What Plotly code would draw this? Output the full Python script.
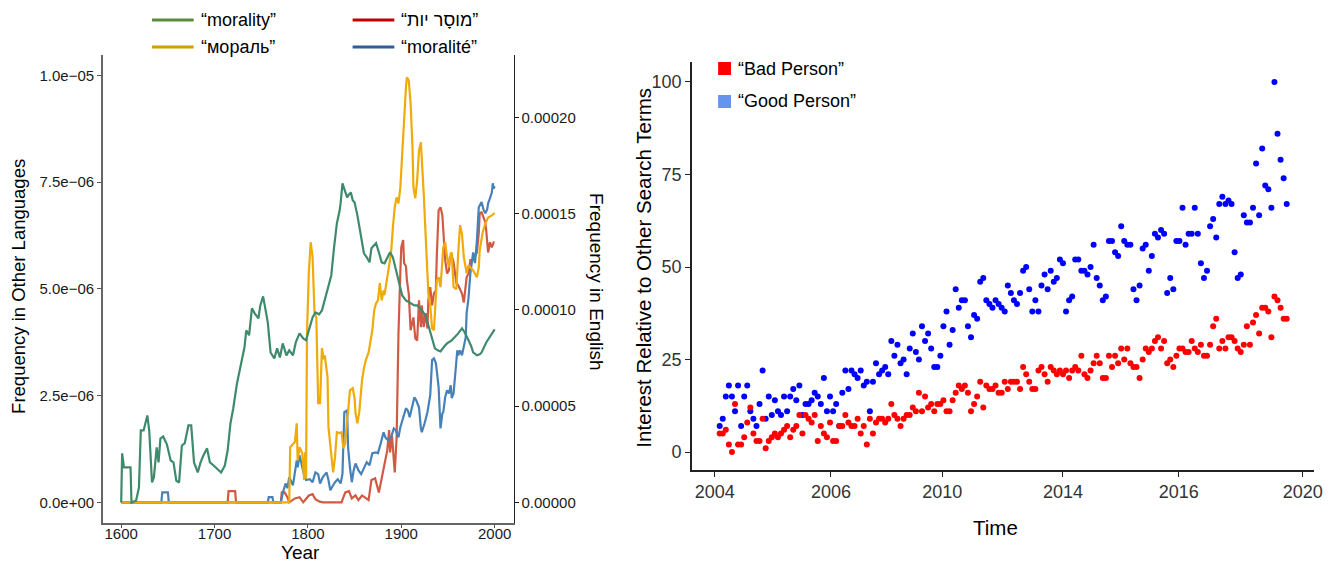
import numpy as np
import plotly.graph_objects as go

W, H = 1331, 563

# ---------------- Left panel data (Ngram frequencies) ----------------
# English "morality" (right axis), values in units of 1e-6
years_en = [1600,1601,1603,1610,1611,1616,1619,1621,1624,1628,
            1630,1633,1635,1638,1640,1642,1645,1649,1653,1656,
            1659,1662,1665,1668,1672,1675,1678,1682,1685,1688,
            1692,1695,1699,1704,1707,1711,1714,1717,1720,1724,
            1727,1729,1732,1734,1737,1740,1743,1747,1749,1752,
            1754,1757,1760,1764,1767,1770,1773,1777,1780,1784,
            1787,1791,1795,1798,1801,1805,1808,1812,1815,1818,
            1821,1825,1828,1831,1834,1835,1837,1840,1842,1844,
            1846,1848,1850,1853,1857,1860,1863,1866,1868,1871,
            1873,1876,1879,1882,1885,1888,1891,1894,1898,1901,
            1905,1910,1914,1917,1921,1926,1931,1936,1939,1942,
            1946,1949,1954,1958,1961,1965,1968,1972,1975,1977,
            1981,1984,1986,1991,1996,2000]
english_per_million = [0, 25.5, 18.2, 18.2, 0, 1.0, 7.8, 37.4, 37.4, 45.2,
                       37.4, 10.4, 13.0, 28.6, 20.8, 33.2, 34.3, 30.1, 21.8, 20.8,
                       11.4, 10.4, 29.6, 30.7, 40.0, 40.0, 20.8, 15.6, 20.8, 24.4,
                       28.1, 20.8, 19.2, 16.6, 15.6, 19.2, 27.0, 41.0, 48.8, 61.8,
                       69.6, 73.8, 80.5, 89.4, 86.8, 100.8, 98.2, 95.6, 102.3, 107.0,
                       100.8, 93.5, 77.9, 74.8, 80.0, 75.3, 82.6, 76.4, 79.0, 76.4,
                       83.1, 87.8, 85.2, 84.2, 89.4, 96.1, 98.7, 97.7, 99.7, 104.9,
                       110.1, 117.9, 132.5, 144.9, 151.7, 155.3, 165.7, 161.0, 158.4, 160.0,
                       161.0, 156.9, 155.8, 149.1, 138.7, 129.4, 127.3, 124.7, 132.0, 133.5,
                       134.6, 129.9, 124.7, 124.2, 127.3, 129.9, 127.3, 121.6, 114.3, 107.5,
                       104.9, 103.4, 102.3, 102.3, 100.3, 97.1, 87.8, 80.0, 79.0, 78.4,
                       81.0, 82.6, 84.2, 86.2, 87.8, 90.4, 88.3, 84.2, 81.0, 77.9,
                       76.4, 76.9, 77.9, 83.1, 87.3, 89.9]

# Russian "мораль" (left axis), units of 1e-6
years_ru = [1600,1780,1781,1786,1788,1789,1791,1794,1796,1797,1798,1799,1801,1803,1805,1807,1809,
            1811,1813,1815,1817,1818,1821,1822,1825,1827,1829,1831,1834,1836,1838,1840,1842,1843,
            1845,1848,1850,1851,1853,1855,1857,1858,1860,1862,1865,1867,1869,1871,1873,1875,1877,
            1879,1881,1882,1884,1885,1887,1889,1891,1893,1895,1897,1899,1901,1903,1905,1906,1908,
            1910,1912,1913,1915,1917,1919,1921,1922,1924,1926,1928,1929,1931,1933,1935,1937,1938,
            1940,1942,1945,1947,1949,1951,1953,1954,1956,1959,1961,1963,1965,1967,1970,1972,1974,
            1977,1981,1983,1984,1987,1990,1993,1997,2000]
russian_per_million = [0, 0, 1.29, 1.41, 1.85, 0.98, 1.29, 1.15, 0.52, 1.17, 0.56, 3.96, 5.4, 6.09, 5.74, 4.45, 4.33,
                       2.32, 2.32, 3.61, 3.35, 3.44, 2.93, 1.76, 1.12, 0.70, 1.05, 1.64, 1.62, 1.64, 1.26, 1.38, 1.97, 2.11,
                       2.62, 2.67, 2.44, 2.08, 1.85, 2.11, 2.62, 2.86, 3.14, 3.33, 3.51, 3.79, 4.03, 4.50, 4.66, 4.73, 5.13,
                       4.73, 4.96, 4.85, 5.13, 5.25, 5.60, 5.83, 6.44, 6.91, 7.14, 7.00, 7.38, 8.24, 9.02, 9.72, 9.95, 9.88,
                       9.34, 8.31, 7.38, 7.12, 7.54, 8.24, 8.43, 8.08, 7.24, 6.30, 5.43, 4.89, 4.61, 4.07, 4.03, 4.89, 5.20,
                       5.27, 5.04, 5.97, 6.09, 5.74, 5.50, 5.83, 5.85, 5.04, 4.99, 5.85, 6.49, 6.28, 5.74, 5.36, 5.55, 5.50,
                       5.43, 5.27, 5.50, 5.90, 6.30, 6.53, 6.67, 6.72, 6.77]

# Hebrew (left axis), units of 1e-6
years_he = [1600,1714,1715,1722,1723,1771,1772,1775,1778,1780,1786,1791,1795,1801,1805,1808,1812,1816,
            1836,1840,1844,1847,1851,1854,1858,1861,1865,1868,1872,1876,1879,1882,1885,1887,1888,1890,
            1893,1895,1897,1899,1900,1902,1903,1905,1906,1908,1910,1913,1915,1917,1919,1921,1922,1924,
            1926,1928,1929,1931,1933,1935,1937,1938,1940,1942,1944,1945,1947,1949,1951,1952,1954,1956,
            1959,1961,1963,1965,1967,1968,1970,1972,1974,1977,1981,1983,1984,1986,1988,1990,1991,1993,
            1995,1997,1999,2000]
hebrew_per_million = [0, 0, 0.26, 0.26, 0, 0, 0.23, 0.23, 0.12, 0, 0.09, 0.12, 0, 0.16, 0.19, 0.07, 0.02, 0,
                      0, 0.23, 0.26, 0.09, 0.16, 0.05, 0.16, 0.12, 0.05, 0.52, 0.56, 0.23, 0.56, 0.91, 1.22, 1.69, 1.17, 1.57,
                      0.70, 1.52, 3.96, 5.39, 5.97, 6.14, 5.60, 5.53, 5.20, 4.89, 4.03, 4.33, 3.84, 3.79, 4.73, 4.10, 4.61, 4.10,
                      4.43, 4.07, 4.73, 5.04, 4.61, 4.89, 4.96, 5.74, 6.84, 6.91, 6.72, 6.37, 5.67, 5.36, 5.43, 5.74, 5.78, 5.62,
                      5.13, 5.08, 4.96, 4.89, 4.68, 4.89, 5.27, 5.36, 5.67, 5.67, 5.85, 6.30, 6.77, 6.79, 6.67, 6.56, 6.37, 5.85,
                      6.09, 5.97, 6.09, 6.09]

# French "moralité" (left axis), units of 1e-6
years_fr = [1600,1643,1644,1650,1651,1757,1758,1762,1763,1771,1773,1776,1778,1780,1784,1786,1788,1789,
            1791,1794,1796,1798,1802,1805,1808,1811,1813,1816,1820,1822,1824,1827,1829,1832,1835,1837,
            1839,1842,1843,1845,1847,1849,1851,1854,1857,1860,1863,1866,1869,1873,1875,1878,1881,1883,
            1886,1889,1892,1894,1897,1899,1902,1905,1907,1909,1912,1914,1916,1919,1921,1922,1925,1928,
            1931,1933,1935,1937,1938,1940,1942,1944,1945,1947,1949,1951,1953,1954,1956,1958,1960,1961,
            1963,1965,1967,1969,1970,1972,1974,1977,1979,1981,1983,1984,1986,1988,1990,1992,1993,1995,
            1997,1998,1999,2000]
french_per_million = [0, 0, 0.23, 0.23, 0, 0, 0.12, 0.12, 0, 0, 0.21, 0.44, 0.33, 0.59, 0.40, 0.75, 0.98, 0.82,
                      1.10, 0.82, 0.63, 0.52, 0.54, 0.47, 0.70, 0.66, 0.44, 0.59, 0.70, 0.52, 0.28, 0.40, 0.47, 0.54, 0.44, 0.66,
                      2.11, 2.15, 1.29, 0.82, 0.47, 0.75, 0.91, 0.75, 0.66, 0.80, 0.94, 0.87, 1.15, 1.17, 1.15, 1.38, 1.64, 1.52,
                      1.45, 1.52, 1.73, 1.69, 1.52, 1.76, 1.99, 2.20, 2.15, 1.99, 2.27, 2.46, 2.39, 2.22, 1.73, 1.64, 1.85, 2.11,
                      2.51, 3.33, 3.37, 3.26, 3.09, 2.69, 1.73, 2.08, 2.11, 2.46, 2.62, 2.55, 2.74, 2.44, 2.55, 3.09, 3.56, 3.44,
                      3.56, 3.44, 3.68, 3.86, 4.43, 4.78, 5.36, 5.85, 5.60, 6.14, 6.91, 6.96, 7.03, 6.86, 6.77, 6.86, 7.00, 7.12,
                      7.26, 7.47, 7.35, 7.40]

left_ticks = [0, 2.5e-6, 5e-6, 7.5e-6, 1e-5]
left_tick_labels = ["0.0e+00", "2.5e\u221206", "5.0e\u221206", "7.5e\u221206", "1.0e\u221205"]
right_ticks = [0, 5e-5, 1e-4, 1.5e-4, 2e-4]
year_ticks = [1600, 1700, 1800, 1900, 2000]

# ---------------- Right panel data (Google Trends, monthly) ----------------
bad_person = [5, 5, 6, 2, 0, 13, 2, 2, 4, 8, 12, 5, 3,
              3, 9, 1, 3, 4, 5, 4, 5,
              6, 7, 4, 6, 7, 10, 5, 10,
              9, 8, 10, 3, 7, 5, 4, 8,
              3, 3, 7, 7, 10, 8, 7, 7,
              9, 5, 7, 2, 9, 5, 8, 9,
              9, 8, 9, 13, 10, 9, 7, 9,
              10, 10, 12, 11, 16, 11, 15, 12,
              13, 11, 13, 13, 14, 11, 11, 14,
              16, 18, 17, 18, 16, 11, 13, 15,
              19, 12, 18, 17, 17, 18, 16, 16,
              19, 17, 19, 19, 19, 17, 23, 21, 19, 17,
              17, 22, 23, 21, 19, 23, 22, 21, 22, 21,
              22, 20, 22, 23, 22, 26, 21, 20, 22, 24,
              26, 24, 20, 20, 26, 23, 26, 24, 28, 25,
              28, 24, 23, 23, 20, 25, 28, 27, 28, 30,
              31, 28, 30, 24, 25, 23, 26, 28, 28, 27,
              27, 30, 28, 27, 29, 26, 26, 29, 34, 36,
              28, 30, 28, 31, 31, 30, 28, 27, 29, 34,
              29, 35, 37, 32, 39, 39, 38, 31, 42, 41,
              39, 36, 36]
good_person = [7, 9, 15, 18, 15, 11, 18, 7, 15, 18, 11, 9, 7,
               13, 22, 9, 15, 10, 14, 11, 10,
               15, 11, 15, 17, 14, 18, 10, 13,
               13, 14, 16, 15, 13, 20, 11, 15,
               11, 13, 7, 16, 22, 17, 22, 21,
               20, 22, 18, 19, 11, 19, 24, 21,
               22, 23, 21, 30, 26, 29, 24, 25,
               21, 28, 32, 27, 25, 34, 30, 32,
               28, 23, 23, 26, 34, 38, 29, 33,
               44, 39, 41, 41, 34, 31, 37, 36,
               46, 47, 41, 40, 39, 41, 40, 39,
               38, 45, 43, 41, 40, 43, 49, 50, 44, 38,
               41, 38, 45, 48, 44, 49, 46, 47, 52, 51,
               38, 41, 42, 52, 52, 49, 49, 48, 50, 56,
               47, 45, 41, 42, 57, 57, 54, 53, 61, 57,
               56, 56, 44, 41, 45, 55, 56, 49, 53, 59,
               58, 60, 59, 43, 47, 44, 57, 57, 66, 56,
               59, 59, 66, 59, 51, 47, 49, 61, 63, 58,
               67, 69, 67, 68, 67, 54, 47, 48, 64, 62,
               62, 66, 78, 64, 82, 72, 71, 66, 100, 86,
               79, 74, 67]
months = 2004 + np.arange(len(good_person)) / 12.0
time_tick_pos = [2003.867, 2007.025, 2010.05, 2013.333, 2016.483, 2019.85]
time_tick_labels = ["2004", "2006", "2010", "2014", "2016", "2020"]
interest_ticks = [0, 25, 50, 75, 100]

english = [v * 1e-6 for v in english_per_million]
russian = [v * 1e-6 for v in russian_per_million]
hebrew = [v * 1e-6 for v in hebrew_per_million]
french = [v * 1e-6 for v in french_per_million]

FONT = "Liberation Sans, Arial, Helvetica, sans-serif"
C_GREEN, C_GOLD, C_RED, C_BLUE = "#3e8a6c", "#f0aa0a", "#d05a44", "#4682b9"

def px(x):
    return x / W

def py(y):
    return 1 - y / H

fig = go.Figure()
lw = 2.2
fig.add_trace(go.Scatter(x=years_en, y=english, mode="lines", line=dict(color=C_GREEN, width=lw),
                         xaxis="x", yaxis="y2", showlegend=False))
fig.add_trace(go.Scatter(x=years_he, y=hebrew, mode="lines", line=dict(color=C_RED, width=lw),
                         xaxis="x", yaxis="y", showlegend=False))
fig.add_trace(go.Scatter(x=years_fr, y=french, mode="lines", line=dict(color=C_BLUE, width=lw),
                         xaxis="x", yaxis="y", showlegend=False))
fig.add_trace(go.Scatter(x=years_ru, y=russian, mode="lines", line=dict(color=C_GOLD, width=lw),
                         xaxis="x", yaxis="y", showlegend=False))

fig.add_trace(go.Scatter(x=months, y=good_person, mode="markers",
                         marker=dict(color="#0000ff", size=6, line=dict(width=0)),
                         xaxis="x2", yaxis="y3", showlegend=False))
fig.add_trace(go.Scatter(x=months, y=bad_person, mode="markers",
                         marker=dict(color="#ff0000", size=6, line=dict(width=0)),
                         xaxis="x2", yaxis="y3", showlegend=False))

tickfont_l = dict(family=FONT, size=15, color="#1a1a1a")
tickfont_r = dict(family=FONT, size=18, color="#333333")

fig.update_layout(
    width=W, height=H,
    margin=dict(l=0, r=0, t=0, b=0),
    paper_bgcolor="white", plot_bgcolor="white",
    showlegend=False,
    xaxis=dict(domain=[px(103.6), px(517)], range=[1580.4, 2020.2],
               tickvals=year_ticks, ticks="outside", ticklen=4, tickcolor="#555555",
               showline=True, linecolor="#666666", linewidth=1.5, showgrid=False, zeroline=False,
               tickfont=dict(family=FONT, size=15, color="#1a1a1a"), ticklabelstandoff=-7,
               anchor="y"),
    yaxis=dict(domain=[py(522.7), py(55)], range=[-0.478e-6, 10.475e-6],
               tickvals=left_ticks, ticktext=left_tick_labels, ticks="outside", ticklen=4,
               tickcolor="#555555", showline=True, linecolor="#666666", linewidth=1.5,
               showgrid=False, zeroline=False, tickfont=tickfont_l, anchor="x"),
    yaxis2=dict(overlaying="y", side="right", range=[-1.049e-5, 2.3235e-4],
                tickvals=right_ticks, tickformat=".5f", ticks="outside", ticklen=4,
                tickcolor="#222222", showline=True, linecolor="#222222", linewidth=1,
                showgrid=False, zeroline=False, tickfont=tickfont_l, anchor="x"),
    xaxis2=dict(domain=[px(696.7), px(1322.7)], range=[2003.247, 2020.152],
                tickvals=time_tick_pos, ticktext=time_tick_labels, ticks="outside", ticklen=5,
                tickcolor="#222222", showline=True, linecolor="#222222", linewidth=1.5,
                showgrid=False, zeroline=False, tickfont=tickfont_r, anchor="y3",
                ticklabeloverflow="allow"),
    yaxis3=dict(domain=[py(470), py(62)], range=[-4.86, 105.4],
                tickvals=interest_ticks, ticks="outside", ticklen=5,
                tickcolor="#222222", showline=True, linecolor="#222222", linewidth=1.5,
                showgrid=False, zeroline=False, tickfont=tickfont_r, anchor="x2"),
)

ann = []
def text(x, y, s, size, angle=0, xanchor="center", color="#000000"):
    ann.append(dict(x=px(x), y=py(y), xref="paper", yref="paper", text=s, showarrow=False,
                    textangle=angle, xanchor=xanchor, yanchor="middle",
                    font=dict(family=FONT, size=size, color=color)))

text(18, 286, "Frequency in Other Languages", 18.5, -90)
text(601, 282, "Frequency in English", 19, 90)
text(303, 552, "Year", 19)
text(647, 268, "Interest Relative to Other Search Terms", 20.5, -90)
text(1002, 527, "Time", 20.5)

# left legend
shapes = []
hebrew_label = "\u201c\u05de\u05d5\u05e1\u05b8\u05e8 \u05d9\u05d5\u05ea\u201d"
leg = [(153, 20, "#5b8c3e", "\u201cmorality\u201d"),
       (153, 47, "#d39e00", "\u201c\u043c\u043e\u0440\u0430\u043b\u044c\u201d"),
       (355, 20, "#c00000", hebrew_label),
       (355, 47, "#2f5d9e", "\u201cmoralit\u00e9\u201d")]
for x0, y0, col, label in leg:
    shapes.append(dict(type="line", xref="paper", yref="paper", x0=px(x0), x1=px(x0 + 42),
                       y0=py(y0), y1=py(y0), line=dict(color=col, width=3)))
    text(x0 + 47, y0, label, 18, 0, "left")

# right legend
for y0, col, label in [(62, "#ff0000", "\u201cBad Person\u201d"), (95, "#6495ed", "\u201cGood Person\u201d")]:
    shapes.append(dict(type="rect", xref="paper", yref="paper", x0=px(723), x1=px(736),
                       y0=py(y0 + 13), y1=py(y0), fillcolor=col, line=dict(width=0)))
    text(741, y0 + 6.5, label, 18, 0, "left")

fig.update_layout(annotations=ann, shapes=shapes)
fig.write_html("out.html")
